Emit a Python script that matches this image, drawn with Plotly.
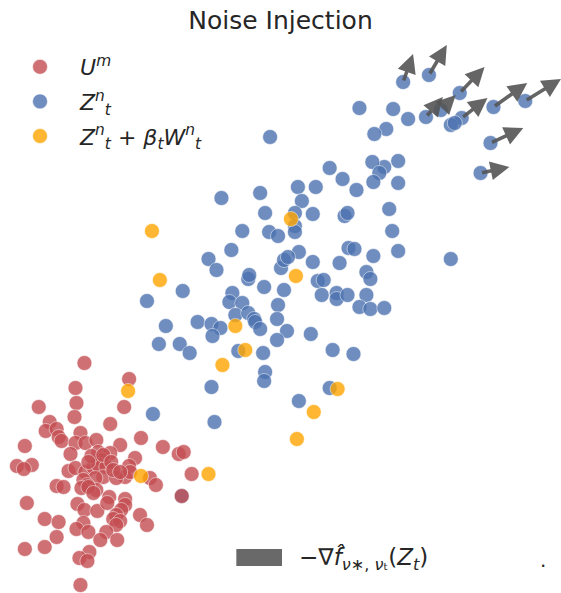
import plotly.graph_objects as go

W, H = 561, 593

# ---- data (pixel-like units, y grows downward) ----
red_x = [81,126,72,73,35,121,71,107,46,42,53,55,58,77,138,21,160,176,181,72,82,93,117,67,95,107,132,13,28,20,65,72,82,90,98,95,103,100,92,80,84,93,126,122,113,127,147,153,189,53,60,78,85,90,23,74,81,94,106,104,122,122,118,113,110,117,113,137,144,41,55,80,73,85,103,97,114,53,41,21,86,76,84,77,179,88,100,108,85,110,117]
red_y = [363,379,388,403,407,407,417,424,422,431,429,437,441,433,438,446,447,454,452,443,443,440,445,454,452,453,458,466,465,469,471,468,472,467,460,465,467,477,478,480,485,490,466,477,478,472,478,485,474,486,487,488,487,493,503,504,510,511,497,503,499,505,510,515,519,521,525,515,525,519,522,523,529,532,532,540,540,537,547,549,552,558,561,585,496,456,455,462,462,470,472]

blue_x = [402,428,459,392,407,385,425,440,461,450,454,493,525,490,480,397,383,
          358,373,268,371,378,372,397,328,341,296,314,355,258,
          219,300,263,293,311,343,346,388,240,267,276,293,293,391,229,297,206,214,279,282,286,311,338,347,353,372,397,365,369,246,247,316,322,262,282,320,335,335,346,365,358,369,383,144,180,230,227,240,233,246,252,253,258,276,275,163,195,209,218,210,156,177,187,285,275,309,236,261,331,352,
          450,263,262,209,328,297,212,150,179]
blue_y = [82,75,93,109,119,129,117,110,118,125,123,107,101,143,173,161,167,
          108,134,137,162,173,182,183,168,179,187,187,190,193,
          198,201,213,213,214,216,213,209,231,232,236,226,232,231,250,252,259,270,268,260,257,262,263,248,249,256,251,272,279,279,275,281,280,287,290,295,293,299,295,295,307,309,308,301,291,293,302,303,315,313,319,322,329,305,319,326,322,324,328,336,344,344,353,331,340,334,351,353,350,354,
          259,372,381,387,388,401,422,414,496]

orange_x = [149,157,289,294,233,243,220,125,336,312,295,206,138]
orange_y = [231,280,219,276,326,350,365,391,389,412,439,474,476]

# gradient arrows: tails and tips
arrow_x0 = [402,428,459,425,440,461,493,525,490,480]
arrow_y0 = [82,75,93,117,110,118,107,101,143,173]
arrow_x1 = [412,446,484,442,455,487,527,561,523,509]
arrow_y1 = [54,45,67,97,95,98,83,79,128,167]

labels = ["<i>U</i><sup><i>m</i></sup>",
          "<i>Z</i><sup><i>n</i></sup><sub><i>t</i></sub>",
          "<i>Z</i><sup><i>n</i></sup><sub><i>t</i></sub> + <i>β</i><sub><i>t</i></sub><i>W</i><sup><i>n</i></sup><sub><i>t</i></sub>"]
colors = ["#C44E52", "#4C72B0", "#FFA500"]
title = "Noise Injection"
key_label = "−∇<i>f̂</i><sub><i>ν</i>∗, <i>ν</i>ₜ</sub>(<i>Z</i><sub><i>t</i></sub>)"

series = [(red_x, red_y, labels[0], colors[0], 1),
          (blue_x, blue_y, labels[1], colors[1], 2),
          (orange_x, orange_y, labels[2], colors[2], 3)]

fig = go.Figure()
# drawing order: blue, red, orange (legend order kept by legendrank)
for idx in [1, 0, 2]:
    xs, ys, name, c, rank = series[idx]
    fig.add_trace(go.Scatter(x=xs, y=ys, mode="markers", name=name,
                             legendrank=rank, legendgroup=str(rank),
                             marker=dict(size=15, color=c, opacity=0.8,
                                         line=dict(width=0.6, color="white"))))

for x0, y0, x1, y1 in zip(arrow_x0, arrow_y0, arrow_x1, arrow_y1):
    fig.add_annotation(x=x1, y=y1, ax=x0, ay=y0, xref="x", yref="y",
                       axref="x", ayref="y", showarrow=True, text="",
                       arrowhead=2, arrowsize=1.05, arrowwidth=3.6,
                       arrowcolor="rgba(85,85,85,0.9)", standoff=0)

# quiver key
fig.add_shape(type="rect", xref="paper", yref="paper",
              x0=234/W, x1=280/W, y0=1-566/H, y1=1-549/H,
              fillcolor="#696969", line=dict(width=0))
fig.add_annotation(x=295/W, y=1-559/H, xref="paper", yref="paper",
                   text=key_label, showarrow=False, xanchor="left", yanchor="middle",
                   font=dict(size=23, color="#262626", family="DejaVu Sans"))
fig.add_annotation(x=543/W, y=1-560/H, xref="paper", yref="paper",
                   text=".", showarrow=False, xanchor="center", yanchor="middle",
                   font=dict(size=20, color="#262626", family="DejaVu Sans"))

fig.update_layout(
    width=W, height=H,
    margin=dict(l=0, r=0, t=0, b=0),
    paper_bgcolor="white", plot_bgcolor="white",
    title=dict(text=title, x=0.5, xanchor="center", y=1-20/H, yanchor="middle",
               font=dict(size=25, color="#262626", family="DejaVu Sans")),
    xaxis=dict(range=[0, W], visible=False, showgrid=False),
    yaxis=dict(range=[H, 0], visible=False, showgrid=False),
    showlegend=True,
    legend=dict(x=-4/W, y=1-46/H, xanchor="left", yanchor="top",
                itemwidth=70, tracegroupgap=3,
                bgcolor="rgba(0,0,0,0)",
                font=dict(size=22, color="#262626", family="DejaVu Sans")),
)

fig.write_html("out.html", config={"displayModeBar": False},
               post_script="document.body.style.margin='0';")
